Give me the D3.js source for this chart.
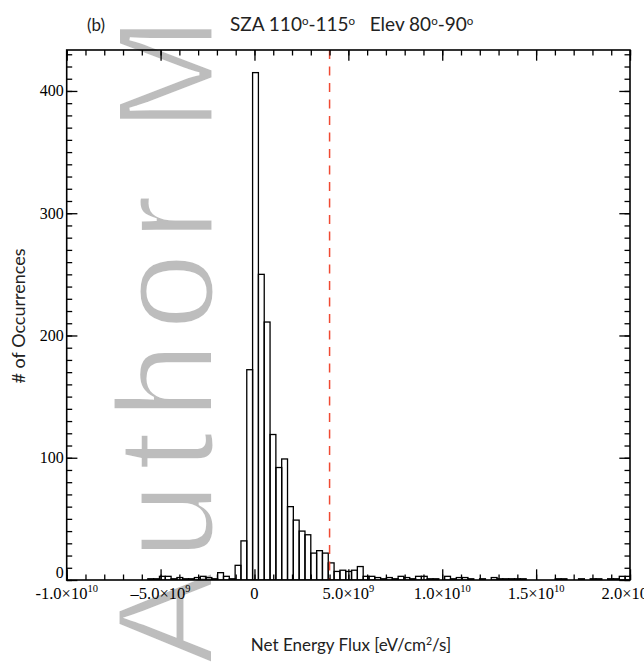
<!DOCTYPE html>
<html>
<head>
<meta charset="utf-8">
<script src="https://cdn.jsdelivr.net/npm/d3@7"></script>
<style>
  body { margin: 0; background: #fff; }
  svg text { white-space: pre; }
</style>
</head>
<body>
<div id="chart"></div>
<script>
// Histogram data
const binStart = -5.68e9;   // left edge of first bin
const binWidth = 3.1e8;
const counts = [
  1, 1, 3, 3, 1, 2, 1, 1, 2, 3, 2, 1, 6, 3, 1, 12, 32, 172,
  415, 250, 211, 119, 92, 99, 60, 49, 40, 37, 22, 24, 22, 14, 7, 8,
  7, 8, 11, 3, 3, 2, 1, 2, 1, 3, 2, 1, 3, 3, 1, 1, 0, 3,
  1, 2, 2, 1, 0, 1, 0, 2, 1, 1, 1, 1, 1, 0, 0, 0,
  0, 0, 1, 1, 0, 0, 1, 0, 1, 1, 0, 1, 1, 3, 3
];
const thresholdFlux = 4.0e9;

const xMajor = [-1e10, -5e9, 0, 5e9, 1e10, 1.5e10, 2e10];
const xMajorLabels = ["-1.0\u00d710", "\u20135.0\u00d710", "0", "5.0\u00d710", "1.0\u00d710", "1.5\u00d710", "2.0\u00d710"];
const xMajorExp = ["10", "9", "", "9", "10", "10", "10"];
const yMajor = [0, 100, 200, 300, 400];

const w = 644;
const h = 664;
const m = { left: 66.7, right: 630, top: 50, bottom: 580 };

const x = d3.scaleLinear().domain([-1e10, 2e10]).range([m.left, m.right]);
const y = d3.scaleLinear().domain([0, 433.5]).range([m.bottom, m.top]);

const svg = d3.select("#chart").append("svg")
  .attr("width", w)
  .attr("height", h);

// watermark behind everything (white outline thins the strokes a bit)
svg.append("text")
  .attr("transform", "translate(213, 664) rotate(-90)")
  .attr("font-family", "Liberation Sans, Arial, sans-serif")
  .attr("font-size", 138)
  .attr("letter-spacing", 12.5)
  .attr("fill", "#bdbdbd")
  .attr("stroke", "#fff")
  .attr("stroke-width", 3)
  .attr("paint-order", "fill")
  .text("Author Manuscript");

svg.append("clipPath").attr("id", "plotclip")
  .append("rect")
  .attr("x", m.left).attr("y", m.top)
  .attr("width", m.right - m.left).attr("height", m.bottom - m.top);

// bars
const bins = counts.map((c, i) => ({ x0: binStart + i * binWidth, x1: binStart + (i + 1) * binWidth, c }));
svg.append("g")
  .attr("clip-path", "url(#plotclip)")
  .selectAll("rect")
  .data(bins.filter(d => d.c > 0))
  .enter()
  .append("rect")
  .attr("x", d => x(d.x0))
  .attr("y", d => y(d.c))
  .attr("width", d => x(d.x1) - x(d.x0))
  .attr("height", d => y(0) - y(d.c))
  .attr("fill", "none")
  .attr("stroke", "#000")
  .attr("stroke-width", 1.3);

// threshold line
svg.append("line")
  .attr("x1", x(thresholdFlux)).attr("x2", x(thresholdFlux))
  .attr("y1", m.top).attr("y2", m.bottom)
  .attr("stroke", "#f04a32")
  .attr("stroke-width", 1.5)
  .attr("stroke-dasharray", "9,7.5");

// axes: inward ticks, major + minor
const xMinor = d3.range(-1e10, 2.0001e10, 1e9);
const yMinor = d3.range(0, 431, 10);
const axisStyle = g => {
  g.select(".domain").remove();
  g.selectAll("line").attr("stroke", "#000").attr("stroke-width", 1.3);
  g.selectAll("text").remove();
};

svg.append("g").attr("transform", `translate(0,${m.bottom})`)
  .call(d3.axisBottom(x).tickValues(xMinor).tickSize(-5.5)).call(axisStyle);
svg.append("g").attr("transform", `translate(0,${m.bottom})`)
  .call(d3.axisBottom(x).tickValues(xMajor).tickSize(-10.7)).call(axisStyle);
svg.append("g").attr("transform", `translate(0,${m.top})`)
  .call(d3.axisTop(x).tickValues(xMinor).tickSize(-5.5)).call(axisStyle);
svg.append("g").attr("transform", `translate(0,${m.top})`)
  .call(d3.axisTop(x).tickValues(xMajor).tickSize(-10.7)).call(axisStyle);
svg.append("g").attr("transform", `translate(${m.left},0)`)
  .call(d3.axisLeft(y).tickValues(yMinor).tickSize(-5.5)).call(axisStyle);
svg.append("g").attr("transform", `translate(${m.left},0)`)
  .call(d3.axisLeft(y).tickValues(yMajor).tickSize(-10.7)).call(axisStyle);
svg.append("g").attr("transform", `translate(${m.right},0)`)
  .call(d3.axisRight(y).tickValues(yMinor).tickSize(-5.5)).call(axisStyle);
svg.append("g").attr("transform", `translate(${m.right},0)`)
  .call(d3.axisRight(y).tickValues(yMajor).tickSize(-10.7)).call(axisStyle);

// frame
svg.append("rect")
  .attr("x", m.left).attr("y", m.top)
  .attr("width", m.right - m.left).attr("height", m.bottom - m.top)
  .attr("fill", "none").attr("stroke", "#000").attr("stroke-width", 1.6);

// y tick labels (the 0 label sits a little higher, clear of the x labels)
svg.append("g").selectAll("text")
  .data(yMajor)
  .enter()
  .append("text")
  .attr("x", m.left - 3)
  .attr("y", d => (d === 0 ? y(d) - 2 : y(d) + 5.5))
  .attr("text-anchor", "end")
  .attr("font-family", "Liberation Serif, Times New Roman, serif")
  .attr("font-size", 16)
  .text(d => d);

// x tick labels with exponents
const xl = svg.append("g").selectAll("text")
  .data(xMajor)
  .enter()
  .append("text")
  .attr("x", d => x(d))
  .attr("y", 599)
  .attr("text-anchor", "middle")
  .attr("font-family", "Liberation Serif, Times New Roman, serif")
  .attr("font-size", 16.5);
xl.append("tspan").text((d, i) => xMajorLabels[i]);
xl.append("tspan")
  .attr("dy", -7)
  .attr("font-size", 10.5)
  .text((d, i) => xMajorExp[i]);

// titles
const sans = "Lato, Open Sans, sans-serif";
svg.append("text")
  .attr("x", 87).attr("y", 31)
  .attr("font-family", sans).attr("font-size", 17).attr("fill", "#222")
  .text("(b)");

const title = svg.append("text")
  .attr("x", 230).attr("y", 31)
  .attr("font-family", sans).attr("font-size", 19).attr("fill", "#222");
const titleParts = ["SZA 110", "o", "-115", "o", "   Elev 80", "o", "-90", "o"];
titleParts.forEach((t, i) => {
  const sup = i % 2 === 1;
  title.append("tspan")
    .attr("dy", sup ? -6 : (i > 0 ? 6 : 0))
    .attr("font-size", sup ? 11.5 : 19)
    .text(t);
});

svg.append("text")
  .attr("transform", "translate(25,316) rotate(-90)")
  .attr("text-anchor", "middle")
  .attr("font-family", sans).attr("font-size", 18).attr("fill", "#222")
  .text("# of Occurrences");

const xt = svg.append("text")
  .attr("x", 351).attr("y", 651)
  .attr("text-anchor", "middle")
  .attr("font-family", sans).attr("font-size", 17).attr("fill", "#222");
xt.append("tspan").text("Net Energy Flux [eV/cm");
xt.append("tspan").attr("dy", -6).attr("font-size", 10.5).text("2");
xt.append("tspan").attr("dy", 6).text("/s]");
</script>
</body>
</html>
